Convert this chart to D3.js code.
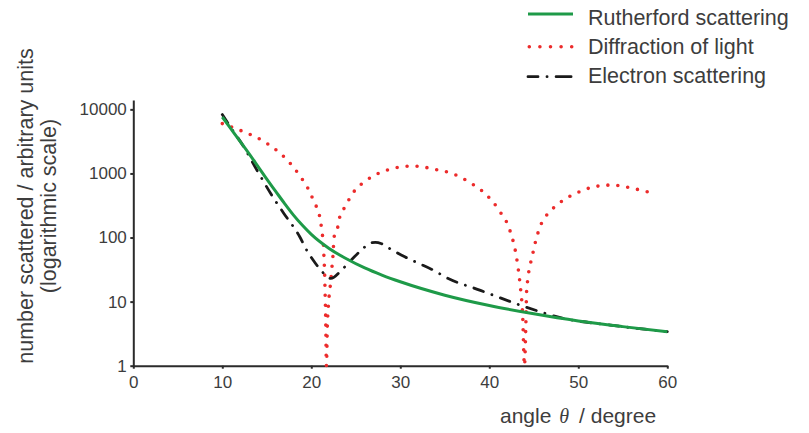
<!DOCTYPE html>
<html>
<head>
<meta charset="utf-8">
<script src="https://cdn.jsdelivr.net/npm/d3@7"></script>
<style>
  html, body { margin: 0; padding: 0; background: #ffffff; }
  svg { display: block; font-family: "Liberation Sans", Arial, sans-serif; }
</style>
</head>
<body>
<svg id="chart" width="809" height="433"></svg>
<script>
// ---- data ----
const xTicks = [0, 10, 20, 30, 40, 50, 60];
const yTicks = [1, 10, 100, 1000, 10000];

const rutherfordTheta  = [10, 11, 12, 13, 14, 15, 16, 17, 18, 19, 20, 22, 24, 26, 28, 30, 35, 40, 45, 50, 55, 60];
const rutherfordCounts = [7600, 4900, 3160, 2040, 1290, 813, 525, 339, 224, 155, 112, 67.6, 46.2, 33.5, 25.7, 20.4, 12.6, 8.7, 6.46, 5.0, 4.07, 3.39];

const electronTheta  = [10, 11, 12.4, 14, 15.9, 16.9, 18.7, 19.5, 20.5, 21.2, 22.2, 23.3, 24.3, 25.7, 26.6, 27.2, 27.9, 28.9, 30.5, 32, 33.7, 35.1, 39, 43.8, 48.3, 53.6, 60];
const electronCounts = [8300, 5100, 2620, 1060, 385, 240, 103, 63, 39, 29.5, 23, 30, 42, 65, 82, 84, 80, 66, 50, 40, 31, 24, 15, 8.5, 5.5, 4.3, 3.4];

const diffractionTheta  = [10, 12.4, 14.4, 16.3, 17.2, 18.65, 19.85, 20.3, 20.8, 21.05, 21.2, 21.35, 21.42, 21.5, 21.55, 21.62, 21.7,
                           21.8, 21.95, 22.1, 22.2, 22.3, 22.45, 22.55, 22.97, 23.2, 23.8, 24.2, 25.1, 26, 26.8, 27.7, 28.8, 30, 31.3, 32.3,
                           33.3, 35.8, 37.8, 39.7, 41.2, 42.3, 43.1, 43.45, 43.75, 43.95, 44.1, 44.2, 44.9, 45.7, 46.4, 47.2, 48.4, 49.4,
                           50.45, 51.5, 52.7, 53.8, 54.9, 56.1, 57.3, 58.4];
const diffractionCounts = [6000, 4470, 3320, 2180, 1670, 944, 507, 363, 250, 178, 120, 85, 50, 27, 14, 5, 1,
                           4, 10, 16, 22, 32, 56, 100, 145, 210, 302, 385, 590, 740, 890, 1025, 1160, 1260, 1300, 1290,
                           1200, 1000, 725, 460, 253, 131, 45, 19, 6, 1, 4, 15, 57, 147, 219, 288, 389, 468,
                           537, 610, 645, 660, 635, 585, 537, 490];

const seriesNames = ["Rutherford scattering", "Diffraction of light", "Electron scattering"];

// ---- drawing ----
const svg = d3.select("#chart");
const textColor = "#3d3d3d";
const axisColor = "#2b2b2b";
const green = "#1e9a48";
const red = "#ec2b2b";
const black = "#1a1a1a";

const x = d3.scaleLinear().domain([0, 60]).range([133.3, 667.3]);
const y = d3.scaleLog().domain([1, 14000]).range([365.7, 100]);

// axes
const gx = svg.append("g")
  .attr("transform", `translate(0,${y(1)})`)
  .call(d3.axisBottom(x).tickValues(xTicks).tickFormat(d3.format("d")).tickSize(3).tickSizeOuter(0).tickPadding(7));
const gy = svg.append("g")
  .attr("transform", `translate(${x(0)},0)`)
  .call(d3.axisLeft(y).tickValues(yTicks).tickFormat(d3.format("d")).tickSize(3).tickSizeOuter(0).tickPadding(3.5));

[gx, gy].forEach(g => {
  g.select(".domain").attr("stroke", axisColor).attr("stroke-width", 2);
  g.selectAll(".tick line").attr("stroke", axisColor).attr("stroke-width", 2);
  g.selectAll(".tick text").attr("fill", textColor)
    .style("font-family", "'Liberation Sans', Arial, sans-serif").style("font-size", "17px");
});

const toPts = (th, v) => th.map((t, i) => [t, v[i]]);
const line = d3.line().x(d => x(d[0])).y(d => y(d[1])).curve(d3.curveMonotoneX);

// series
svg.append("path").datum(toPts(diffractionTheta, diffractionCounts))
  .attr("d", line).attr("fill", "none").attr("stroke", red)
  .attr("stroke-width", 3.6).attr("stroke-linecap", "round").attr("stroke-dasharray", "0 10");

svg.append("path").datum(toPts(electronTheta, electronCounts))
  .attr("d", line).attr("fill", "none").attr("stroke", black)
  .attr("stroke-width", 2.8).attr("stroke-linecap", "round").attr("stroke-dasharray", "10 9 0.1 9");

svg.append("path").datum(toPts(rutherfordTheta, rutherfordCounts))
  .attr("d", line).attr("fill", "none").attr("stroke", green)
  .attr("stroke-width", 3);

// axis titles
const yTitle = svg.append("text")
  .attr("transform", "translate(0,206) rotate(-90)")
  .attr("text-anchor", "middle").attr("fill", textColor)
  .style("font-size", "21.5px");
yTitle.append("tspan").attr("x", 0).attr("y", 33).text("number scattered / arbitrary units");
yTitle.append("tspan").attr("x", 0).attr("y", 56).text("(logarithmic scale)");

const xTitle = svg.append("text")
  .attr("x", 500).attr("y", 423).attr("fill", textColor)
  .style("font-size", "21px");
xTitle.append("tspan").text("angle ");
xTitle.append("tspan").attr("dx", 2)
  .style("font-family", "'Liberation Serif', 'Times New Roman', serif")
  .style("font-style", "italic").style("font-size", "20px").text("θ");
xTitle.append("tspan").attr("dx", 10).text("/ degree");

// legend
const legend = svg.append("g");
const legendRows = [
  { name: seriesNames[0], color: green, y: 14, tb: 24.5, dash: null, w: 3, x1: 528, x2: 573 },
  { name: seriesNames[1], color: red, y: 46.7, tb: 53.5, dash: "0 10.6", w: 3.6, x1: 529.3, x2: 572 },
  { name: seriesNames[2], color: black, y: 76.7, tb: 83, dash: "10 9 0.1 9 15", w: 2.8, x1: 528, x2: 573 }
];
legendRows.forEach(r => {
  legend.append("line")
    .attr("x1", r.x1).attr("x2", r.x2)
    .attr("y1", r.y).attr("y2", r.y)
    .attr("stroke", r.color).attr("stroke-width", r.w)
    .attr("stroke-linecap", r.dash ? "round" : "butt")
    .attr("stroke-dasharray", r.dash);
  legend.append("text").attr("x", 588).attr("y", r.tb)
    .attr("fill", textColor).style("font-size", "21.5px").text(r.name);
});
</script>
</body>
</html>
